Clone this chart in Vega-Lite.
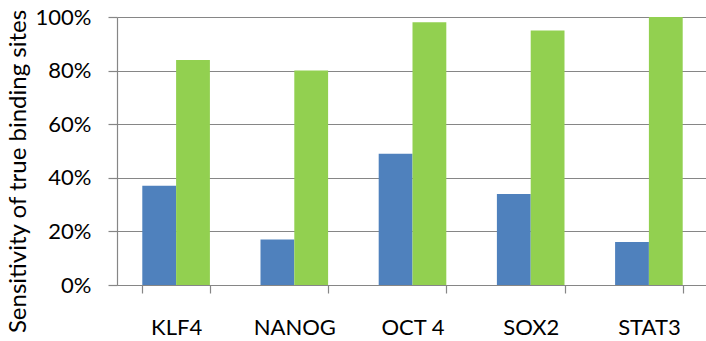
{
  "$schema": "https://vega.github.io/schema/vega-lite/v6.json",
  "autosize": "none",
  "width": 591,
  "height": 268,
  "padding": {"left": 117, "top": 17, "right": 0, "bottom": 56},
  "background": "white",
  "config": {
    "view": {"stroke": null},
    "font": "Lato",
    "axis": {
      "domainColor": "#868686",
      "tickColor": "#868686",
      "gridColor": "#868686",
      "domainWidth": 1.2,
      "tickWidth": 1.2,
      "gridWidth": 1.2,
      "labelFont": "Lato",
      "titleFont": "Lato",
      "labelColor": "#000000",
      "titleColor": "#000000"
    }
  },
  "data": {
    "values": [
      {"factor": "KLF4", "series": "A", "sensitivity": 0.37},
      {"factor": "KLF4", "series": "B", "sensitivity": 0.84},
      {"factor": "NANOG", "series": "A", "sensitivity": 0.17},
      {"factor": "NANOG", "series": "B", "sensitivity": 0.80},
      {"factor": "OCT 4", "series": "A", "sensitivity": 0.49},
      {"factor": "OCT 4", "series": "B", "sensitivity": 0.98},
      {"factor": "SOX2", "series": "A", "sensitivity": 0.34},
      {"factor": "SOX2", "series": "B", "sensitivity": 0.95},
      {"factor": "STAT3", "series": "A", "sensitivity": 0.16},
      {"factor": "STAT3", "series": "B", "sensitivity": 1.0}
    ]
  },
  "mark": {"type": "bar"},
  "encoding": {
    "x": {
      "field": "factor",
      "type": "nominal",
      "sort": ["KLF4", "NANOG", "OCT 4", "SOX2", "STAT3"],
      "scale": {"paddingInner": 0.428, "paddingOuter": 0.214},
      "axis": {
        "title": null,
        "labelAngle": 0,
        "labelFontSize": 22,
        "labelPadding": 24,
        "tickBand": "extent",
        "tickSize": 8,
        "grid": false
      }
    },
    "xOffset": {"field": "series", "type": "nominal", "scale": {"paddingInner": 0, "paddingOuter": 0}},
    "y": {
      "field": "sensitivity",
      "type": "quantitative",
      "scale": {"domain": [0, 1], "nice": false},
      "axis": {
        "title": "Sensitivity of true binding sites",
        "titleFontSize": 24,
        "titleFontWeight": "normal",
        "titleAngle": 270,
        "titleX": -92,
        "titleY": 154,
        "titleAlign": "center",
        "titleBaseline": "alphabetic",
        "format": ".0%",
        "values": [0, 0.2, 0.4, 0.6, 0.8, 1.0],
        "labelFontSize": 22,
        "labelPadding": 17,
        "tickSize": 9,
        "grid": true
      }
    },
    "color": {
      "field": "series",
      "type": "nominal",
      "scale": {"domain": ["A", "B"], "range": ["#4F81BD", "#92D050"]},
      "legend": null
    }
  }
}
